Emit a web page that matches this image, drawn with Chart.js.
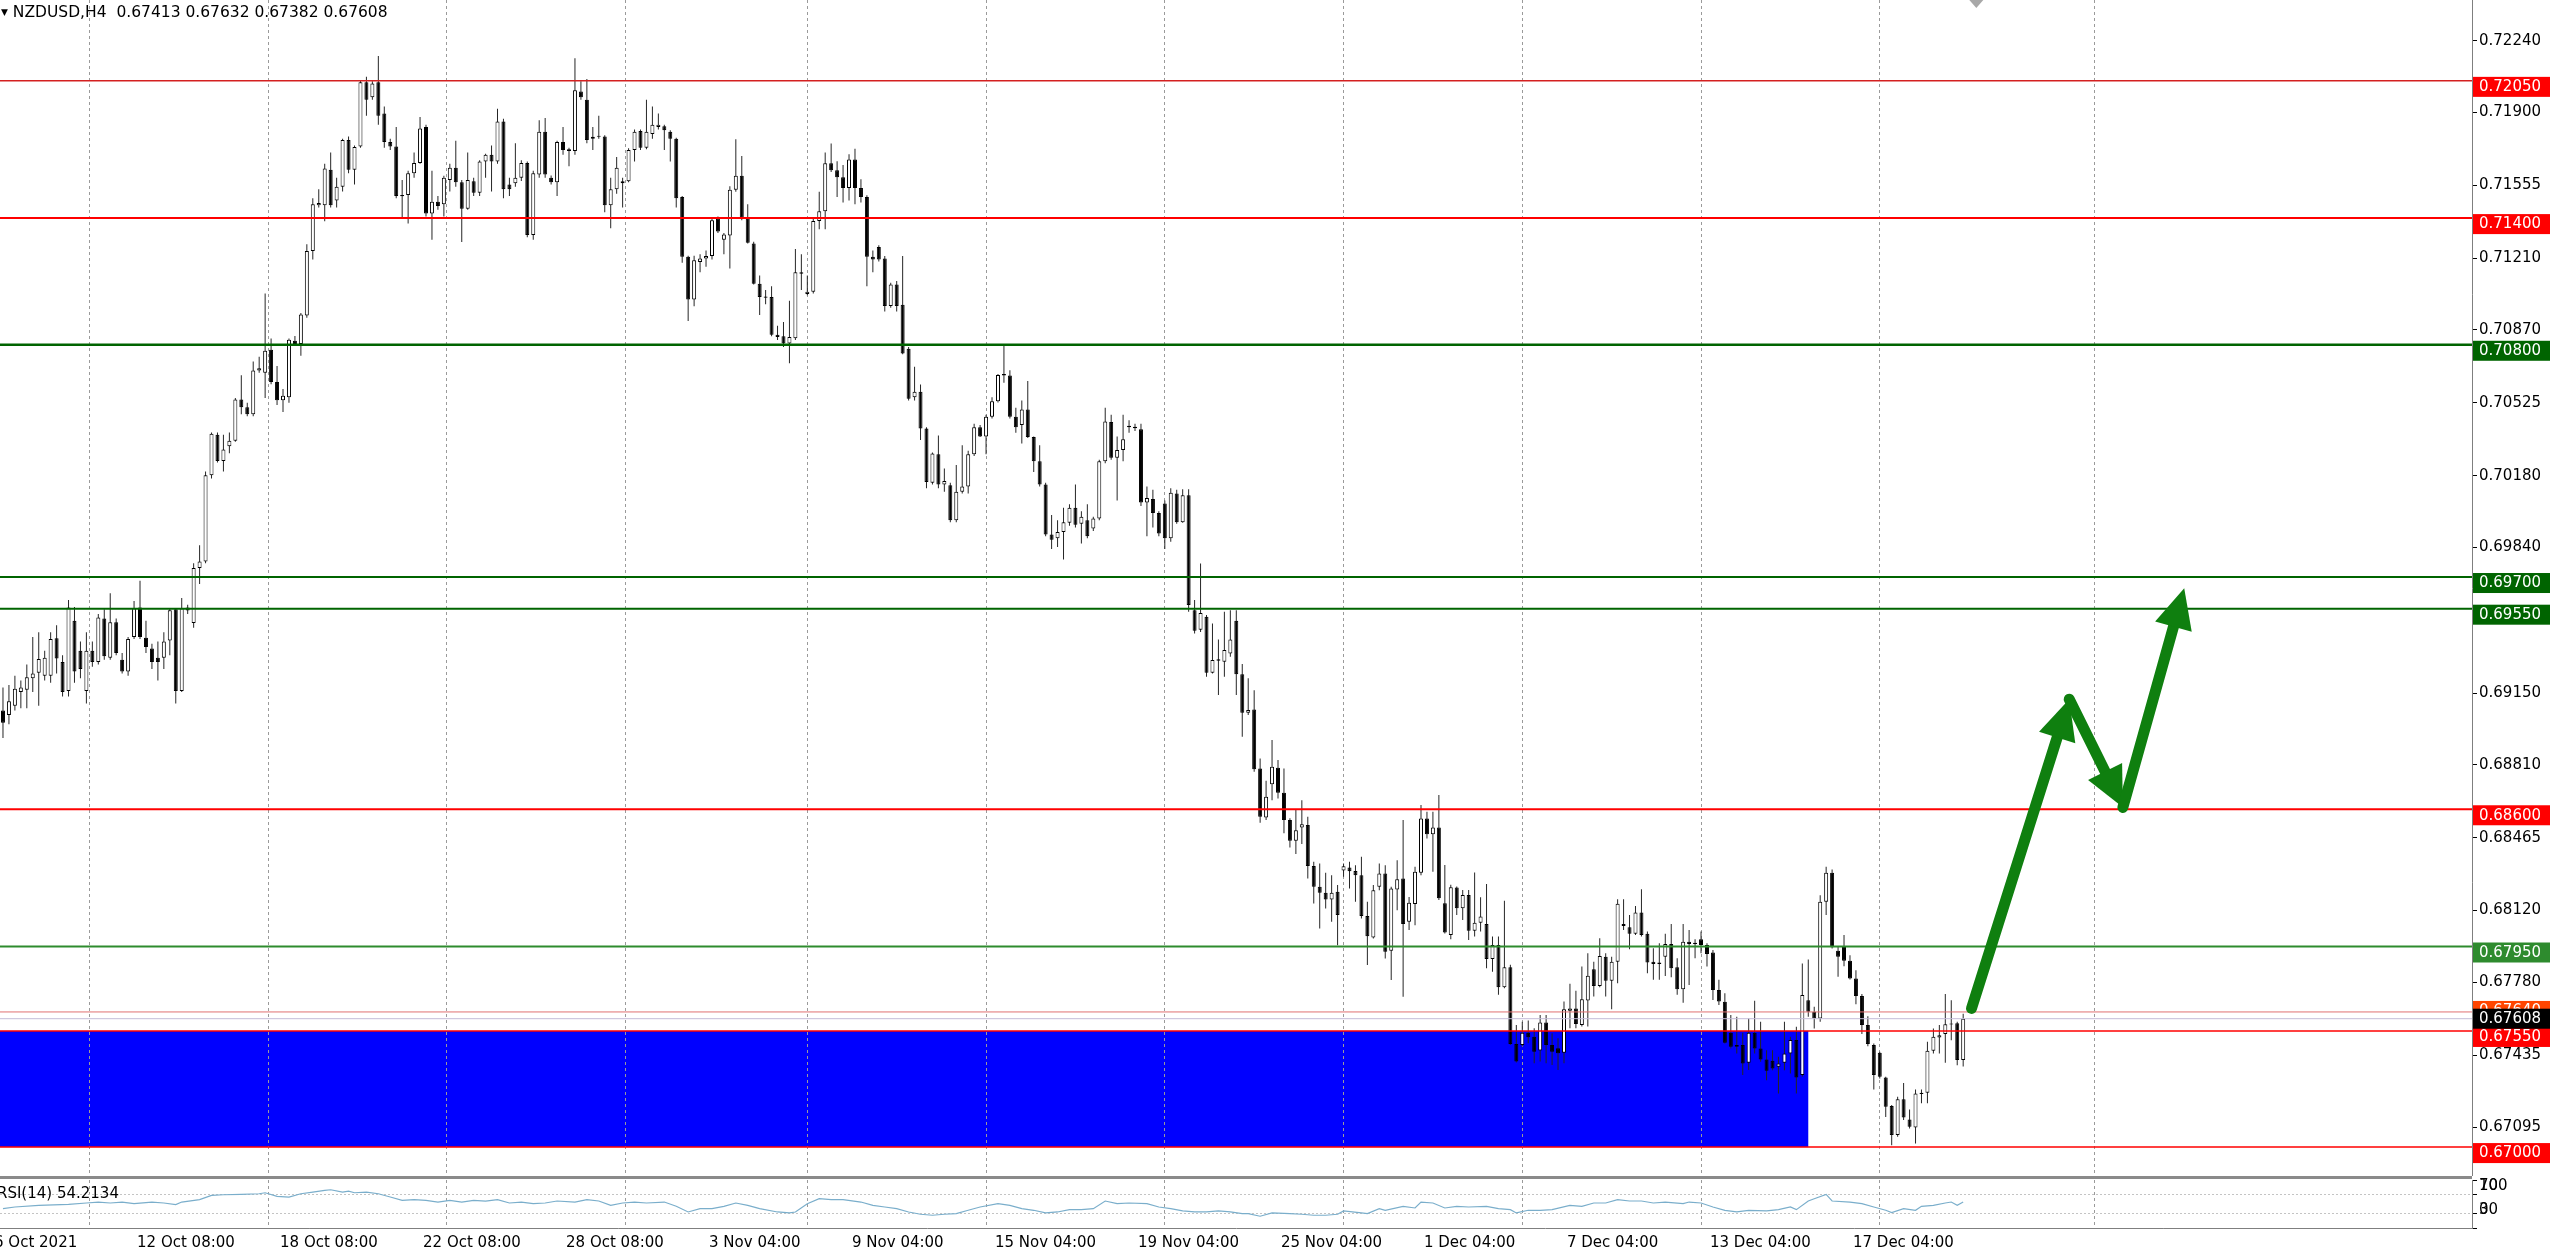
<!DOCTYPE html>
<html>
<head>
<meta charset="utf-8">
<title>NZDUSD,H4</title>
<script src="https://cdn.jsdelivr.net/npm/chart.js@4.4.1/dist/chart.umd.min.js"></script>
<style>
    html, body { margin: 0; padding: 0; background: #fff; }
    body { width: 2560px; height: 1254px; position: relative; overflow: hidden; font-family: "DejaVu Sans", sans-serif; }
    canvas { position: absolute; left: 0; }
    #priceChart { top: 0; }
    #rsiChart { top: 1168px; }
    #panelSep { position: absolute; left: 0; top: 1176px; width: 2472px; height: 3px; background: #8a8a8a; }
    #header { position: absolute; left: 1px; top: 3px; font-size: 15.5px; white-space: pre; color: #000; }
    #header .tri { font-size: 9px; position: relative; top: -2px; }
    #rsiLabel { position: absolute; left: -3px; top: 1184px; font-size: 15px; white-space: pre; color: #000; }
</style>
</head>
<body>
<canvas id="priceChart" width="2560" height="1176"></canvas>
<div id="panelSep"></div>
<canvas id="rsiChart" width="2560" height="86"></canvas>
<div id="header"></div>
<div id="rsiLabel">RSI(14) 54.2134</div>
<script>
// --- DATA (one entry per H4 bar) ---
const opens = [
    0.69068, 0.69047, 0.69090, 0.69155, 0.69166, 0.69221, 0.69247, 0.69232, 0.69232, 0.69410,
    0.69297, 0.69160, 0.69493, 0.69351, 0.69160, 0.69351, 0.69297, 0.69504, 0.69318, 0.69486,
    0.69308, 0.69253, 0.69416, 0.69556, 0.69412, 0.69362, 0.69318, 0.69318, 0.69399, 0.69547,
    0.69160, 0.69556, 0.69482, 0.69743, 0.69773, 0.70182, 0.70374, 0.70249, 0.70319, 0.70345,
    0.70541, 0.70504, 0.70471, 0.70678, 0.70667, 0.70776, 0.70624, 0.70537, 0.70552, 0.70819,
    0.70804, 0.70939, 0.71244, 0.71461, 0.71461, 0.71629, 0.71483, 0.71548, 0.71770, 0.71629,
    0.71739, 0.72044, 0.71972, 0.72044, 0.71896, 0.71761, 0.71739, 0.71509, 0.71509, 0.71613,
    0.71661, 0.71831, 0.71422, 0.71478, 0.71465, 0.71581, 0.71639, 0.71570, 0.71444, 0.71574,
    0.71520, 0.71668, 0.71700, 0.71668, 0.71857, 0.71559, 0.71565, 0.71591, 0.71661, 0.71320,
    0.71607, 0.71809, 0.71591, 0.71570, 0.71761, 0.71726, 0.71718, 0.72000, 0.71961, 0.71776,
    0.71785, 0.71787, 0.71461, 0.71537, 0.71565, 0.71574, 0.71722, 0.71813, 0.71733, 0.71798,
    0.71831, 0.71835, 0.71809, 0.71776, 0.71500, 0.71217, 0.71015, 0.71192, 0.71209, 0.71221,
    0.71398, 0.71297, 0.71317, 0.71534, 0.71601, 0.71398, 0.71280, 0.71089, 0.71029, 0.71026,
    0.70848, 0.70840, 0.70806, 0.70831, 0.71136, 0.71040, 0.71051, 0.71386, 0.71432, 0.71660,
    0.71627, 0.71593, 0.71542, 0.71677, 0.71542, 0.71500, 0.71217, 0.71263, 0.71209, 0.70984,
    0.71085, 0.70989, 0.70781, 0.70552, 0.70578, 0.70404, 0.70147, 0.70281, 0.70138, 0.70135,
    0.69969, 0.70104, 0.70129, 0.70281, 0.70409, 0.70366, 0.70459, 0.70532, 0.70662, 0.70654,
    0.70459, 0.70420, 0.70493, 0.70363, 0.70248, 0.70138, 0.69901, 0.69884, 0.69913, 0.69957,
    0.70028, 0.69952, 0.69969, 0.69930, 0.69977, 0.70248, 0.70434, 0.70265, 0.70302, 0.70417,
    0.70412, 0.70400, 0.70053, 0.70070, 0.70003, 0.70048, 0.69884, 0.70096, 0.69960, 0.70087,
    0.69543, 0.69450, 0.69512, 0.69247, 0.69310, 0.69299, 0.69338, 0.69493, 0.69240, 0.69057,
    0.69073, 0.68793, 0.68561, 0.68719, 0.68797, 0.68678, 0.68549, 0.68451, 0.68514, 0.68525,
    0.68331, 0.68233, 0.68204, 0.68173, 0.68209, 0.68310, 0.68324, 0.68308, 0.68288, 0.68094,
    0.67993, 0.68233, 0.68296, 0.67930, 0.68220, 0.68272, 0.68067, 0.68151, 0.68299, 0.68556,
    0.68482, 0.68514, 0.68155, 0.68005, 0.68229, 0.68131, 0.68194, 0.68025, 0.68063, 0.68057,
    0.67891, 0.67957, 0.67757, 0.67852, 0.67488, 0.67484, 0.67542, 0.67523, 0.67457, 0.67590,
    0.67484, 0.67468, 0.67447, 0.67646, 0.67656, 0.67578, 0.67694, 0.67842, 0.67763, 0.67902,
    0.67788, 0.67878, 0.68057, 0.68041, 0.68010, 0.68111, 0.68010, 0.67878, 0.67874, 0.67902,
    0.67962, 0.67852, 0.67747, 0.67973, 0.67968, 0.67984, 0.67957, 0.67921, 0.67744, 0.67688,
    0.67541, 0.67475, 0.67483, 0.67399, 0.67541, 0.67467, 0.67415, 0.67409, 0.67380, 0.67399,
    0.67443, 0.67507, 0.67341, 0.67696, 0.67641, 0.67609, 0.68162, 0.68299, 0.67930, 0.67952,
    0.67882, 0.67799, 0.67715, 0.67578, 0.67483, 0.67447, 0.67330, 0.67194, 0.67057, 0.67226,
    0.67131, 0.67093, 0.67251, 0.67257, 0.67456, 0.67519, 0.67535, 0.67583, 0.67586, 0.67413
];
const highs = [
    0.69177, 0.69188, 0.69232, 0.69210, 0.69286, 0.69416, 0.69438, 0.69351, 0.69438, 0.69471,
    0.69329, 0.69591, 0.69558, 0.69395, 0.69438, 0.69395, 0.69525, 0.69547, 0.69623, 0.69504,
    0.69340, 0.69416, 0.69586, 0.69682, 0.69493, 0.69384, 0.69395, 0.69438, 0.69552, 0.69552,
    0.69601, 0.69569, 0.69765, 0.69851, 0.70200, 0.70384, 0.70384, 0.70374, 0.70384, 0.70548,
    0.70656, 0.70526, 0.70721, 0.70743, 0.71043, 0.70830, 0.70700, 0.70591, 0.70830, 0.70841,
    0.70950, 0.71276, 0.71494, 0.71537, 0.71657, 0.71711, 0.71591, 0.71776, 0.71787, 0.71744,
    0.72053, 0.72070, 0.72048, 0.72168, 0.71929, 0.71776, 0.71831, 0.71581, 0.71624, 0.71711,
    0.71879, 0.71842, 0.71624, 0.71505, 0.71600, 0.71657, 0.71766, 0.71581, 0.71711, 0.71591,
    0.71674, 0.71705, 0.71744, 0.71918, 0.71870, 0.71591, 0.71755, 0.71674, 0.71668, 0.71624,
    0.71863, 0.71874, 0.71602, 0.71766, 0.71831, 0.71733, 0.72157, 0.72048, 0.72059, 0.71831,
    0.71885, 0.71792, 0.71591, 0.71689, 0.71591, 0.71731, 0.71820, 0.71820, 0.71961, 0.71929,
    0.71896, 0.71842, 0.71816, 0.71781, 0.71505, 0.71222, 0.71222, 0.71229, 0.71246, 0.71400,
    0.71407, 0.71330, 0.71551, 0.71774, 0.71694, 0.71466, 0.71288, 0.71128, 0.71060, 0.71077,
    0.70890, 0.70908, 0.71009, 0.71254, 0.71229, 0.71128, 0.71398, 0.71525, 0.71711, 0.71753,
    0.71669, 0.71652, 0.71703, 0.71728, 0.71584, 0.71508, 0.71246, 0.71271, 0.71221, 0.71094,
    0.71102, 0.71221, 0.70789, 0.70696, 0.70612, 0.70409, 0.70290, 0.70370, 0.70214, 0.70147,
    0.70231, 0.70324, 0.70298, 0.70426, 0.70420, 0.70468, 0.70552, 0.70662, 0.70798, 0.70679,
    0.70502, 0.70536, 0.70629, 0.70366, 0.70324, 0.70147, 0.69994, 0.69969, 0.70028, 0.70045,
    0.70138, 0.70011, 0.70045, 0.69986, 0.70256, 0.70502, 0.70468, 0.70366, 0.70468, 0.70443,
    0.70426, 0.70426, 0.70129, 0.70113, 0.70011, 0.70062, 0.70121, 0.70113, 0.70116, 0.70116,
    0.69591, 0.69764, 0.69520, 0.69480, 0.69404, 0.69536, 0.69543, 0.69543, 0.69288, 0.69220,
    0.69164, 0.68841, 0.68735, 0.68928, 0.68833, 0.68793, 0.68557, 0.68596, 0.68643, 0.68564,
    0.68351, 0.68343, 0.68299, 0.68288, 0.68241, 0.68343, 0.68351, 0.68335, 0.68375, 0.68162,
    0.68241, 0.68343, 0.68335, 0.68233, 0.68359, 0.68549, 0.68185, 0.68328, 0.68620, 0.68588,
    0.68588, 0.68667, 0.68336, 0.68242, 0.68234, 0.68218, 0.68218, 0.68300, 0.68183, 0.68246,
    0.67997, 0.67997, 0.68167, 0.67863, 0.67578, 0.67594, 0.67599, 0.67563, 0.67626, 0.67626,
    0.67539, 0.67515, 0.67689, 0.67773, 0.67741, 0.67855, 0.67918, 0.67878, 0.67989, 0.67918,
    0.67902, 0.68174, 0.68174, 0.68099, 0.68142, 0.68221, 0.68021, 0.67942, 0.67965, 0.68010,
    0.68057, 0.67894, 0.68057, 0.68028, 0.67984, 0.68021, 0.67965, 0.67934, 0.67792, 0.67728,
    0.67625, 0.67617, 0.67541, 0.67609, 0.67693, 0.67593, 0.67459, 0.67459, 0.67428, 0.67593,
    0.67522, 0.67570, 0.67870, 0.67889, 0.67665, 0.68193, 0.68328, 0.68315, 0.67949, 0.68004,
    0.67909, 0.67838, 0.67725, 0.67620, 0.67491, 0.67451, 0.67333, 0.67199, 0.67238, 0.67304,
    0.67178, 0.67273, 0.67273, 0.67499, 0.67562, 0.67578, 0.67725, 0.67696, 0.67593, 0.67632
];
const lows = [
    0.68938, 0.69003, 0.69068, 0.69079, 0.69079, 0.69155, 0.69090, 0.69210, 0.69199, 0.69243,
    0.69134, 0.69134, 0.69199, 0.69221, 0.69101, 0.69275, 0.69286, 0.69308, 0.69308, 0.69329,
    0.69243, 0.69232, 0.69406, 0.69406, 0.69340, 0.69264, 0.69210, 0.69264, 0.69329, 0.69101,
    0.69155, 0.69525, 0.69460, 0.69667, 0.69765, 0.70167, 0.70243, 0.70200, 0.70286, 0.70341,
    0.70471, 0.70461, 0.70461, 0.70667, 0.70548, 0.70613, 0.70515, 0.70482, 0.70526, 0.70798,
    0.70748, 0.70928, 0.71204, 0.71450, 0.71385, 0.71450, 0.71450, 0.71526, 0.71613, 0.71559,
    0.71733, 0.71885, 0.71961, 0.71842, 0.71733, 0.71722, 0.71494, 0.71396, 0.71374, 0.71591,
    0.71657, 0.71407, 0.71298, 0.71439, 0.71407, 0.71526, 0.71548, 0.71287, 0.71439, 0.71505,
    0.71505, 0.71591, 0.71526, 0.71657, 0.71494, 0.71505, 0.71548, 0.71576, 0.71309, 0.71298,
    0.71591, 0.71591, 0.71559, 0.71505, 0.71700, 0.71646, 0.71700, 0.71961, 0.71755, 0.71722,
    0.71776, 0.71428, 0.71352, 0.71515, 0.71450, 0.71570, 0.71668, 0.71722, 0.71726, 0.71776,
    0.71820, 0.71722, 0.71668, 0.71450, 0.71189, 0.70913, 0.70982, 0.71144, 0.71170, 0.71204,
    0.71330, 0.71229, 0.71161, 0.71525, 0.71390, 0.71280, 0.71085, 0.70941, 0.70992, 0.70840,
    0.70823, 0.70789, 0.70713, 0.70823, 0.71060, 0.71034, 0.71043, 0.71347, 0.71347, 0.71618,
    0.71500, 0.71474, 0.71483, 0.71466, 0.71474, 0.71077, 0.71144, 0.71195, 0.70958, 0.70975,
    0.70958, 0.70755, 0.70536, 0.70536, 0.70349, 0.70121, 0.70138, 0.70121, 0.70104, 0.69960,
    0.69960, 0.70096, 0.70096, 0.70273, 0.70363, 0.70281, 0.70451, 0.70527, 0.70620, 0.70451,
    0.70383, 0.70332, 0.70358, 0.70197, 0.70129, 0.69893, 0.69833, 0.69842, 0.69783, 0.69943,
    0.69935, 0.69859, 0.69884, 0.69918, 0.69969, 0.70239, 0.70256, 0.70062, 0.70248, 0.70383,
    0.70392, 0.70036, 0.69893, 0.69935, 0.69893, 0.69833, 0.69867, 0.69952, 0.69957, 0.69535,
    0.69433, 0.69440, 0.69228, 0.69243, 0.69141, 0.69228, 0.69322, 0.69141, 0.68943, 0.69046,
    0.68778, 0.68536, 0.68549, 0.68643, 0.68651, 0.68486, 0.68419, 0.68388, 0.68435, 0.68272,
    0.68154, 0.68035, 0.68130, 0.68067, 0.67956, 0.68280, 0.68225, 0.68162, 0.68083, 0.67862,
    0.67988, 0.68217, 0.67893, 0.67791, 0.68122, 0.67712, 0.68028, 0.68051, 0.68288, 0.68462,
    0.68304, 0.68170, 0.68012, 0.67984, 0.68099, 0.68076, 0.67981, 0.67997, 0.68021, 0.67847,
    0.67831, 0.67721, 0.67752, 0.67484, 0.67400, 0.67476, 0.67492, 0.67397, 0.67405, 0.67397,
    0.67389, 0.67365, 0.67397, 0.67563, 0.67563, 0.67571, 0.67571, 0.67713, 0.67757, 0.67713,
    0.67653, 0.67776, 0.68028, 0.67937, 0.68005, 0.67997, 0.67823, 0.67792, 0.67792, 0.67810,
    0.67804, 0.67721, 0.67684, 0.67768, 0.67894, 0.67918, 0.67855, 0.67697, 0.67673, 0.67491,
    0.67467, 0.67443, 0.67341, 0.67365, 0.67443, 0.67404, 0.67317, 0.67364, 0.67254, 0.67364,
    0.67349, 0.67254, 0.67333, 0.67617, 0.67562, 0.67593, 0.68099, 0.67941, 0.67807, 0.67857,
    0.67794, 0.67677, 0.67535, 0.67478, 0.67273, 0.67325, 0.67143, 0.67009, 0.67049, 0.67128,
    0.67088, 0.67017, 0.67207, 0.67207, 0.67443, 0.67443, 0.67399, 0.67506, 0.67388, 0.67382
];
const closes = [
    0.69010, 0.69112, 0.69171, 0.69177, 0.69225, 0.69243, 0.69312, 0.69318, 0.69406, 0.69314,
    0.69155, 0.69556, 0.69253, 0.69264, 0.69351, 0.69297, 0.69508, 0.69325, 0.69486, 0.69340,
    0.69253, 0.69406, 0.69552, 0.69416, 0.69369, 0.69297, 0.69297, 0.69395, 0.69543, 0.69160,
    0.69552, 0.69541, 0.69743, 0.69773, 0.70182, 0.70378, 0.70249, 0.70304, 0.70345, 0.70541,
    0.70504, 0.70471, 0.70678, 0.70689, 0.70772, 0.70624, 0.70537, 0.70558, 0.70824, 0.70804,
    0.70943, 0.71244, 0.71465, 0.71472, 0.71635, 0.71461, 0.71548, 0.71770, 0.71629, 0.71737,
    0.72044, 0.71961, 0.72037, 0.71885, 0.71761, 0.71739, 0.71505, 0.71503, 0.71613, 0.71661,
    0.71824, 0.71422, 0.71478, 0.71457, 0.71591, 0.71639, 0.71570, 0.71444, 0.71581, 0.71520,
    0.71668, 0.71700, 0.71668, 0.71857, 0.71537, 0.71537, 0.71591, 0.71661, 0.71320, 0.71613,
    0.71809, 0.71607, 0.71570, 0.71761, 0.71722, 0.71718, 0.72005, 0.71972, 0.71770, 0.71785,
    0.71787, 0.71461, 0.71537, 0.71639, 0.71574, 0.71722, 0.71809, 0.71733, 0.71809, 0.71842,
    0.71842, 0.71816, 0.71776, 0.71494, 0.71217, 0.71015, 0.71200, 0.71209, 0.71221, 0.71390,
    0.71336, 0.71322, 0.71534, 0.71601, 0.71402, 0.71283, 0.71089, 0.71026, 0.71023, 0.70848,
    0.70837, 0.70806, 0.70837, 0.71144, 0.71144, 0.71051, 0.71386, 0.71432, 0.71660, 0.71627,
    0.71593, 0.71542, 0.71677, 0.71542, 0.71500, 0.71217, 0.71204, 0.71204, 0.70984, 0.71085,
    0.70984, 0.70759, 0.70544, 0.70578, 0.70404, 0.70150, 0.70285, 0.70138, 0.70155, 0.69969,
    0.70104, 0.70129, 0.70281, 0.70409, 0.70366, 0.70459, 0.70532, 0.70657, 0.70654, 0.70459,
    0.70409, 0.70493, 0.70363, 0.70248, 0.70138, 0.69901, 0.69876, 0.69913, 0.69960, 0.70028,
    0.69947, 0.69986, 0.69893, 0.69977, 0.70248, 0.70437, 0.70265, 0.70302, 0.70353, 0.70409,
    0.70405, 0.70053, 0.70074, 0.70003, 0.69906, 0.69884, 0.70099, 0.69960, 0.70087, 0.69567,
    0.69446, 0.69530, 0.69247, 0.69307, 0.69303, 0.69354, 0.69404, 0.69240, 0.69057, 0.69070,
    0.68789, 0.68564, 0.68659, 0.68801, 0.68678, 0.68549, 0.68451, 0.68501, 0.68529, 0.68331,
    0.68233, 0.68204, 0.68173, 0.68204, 0.68099, 0.68330, 0.68307, 0.68288, 0.68094, 0.67999,
    0.68217, 0.68296, 0.67925, 0.68225, 0.68268, 0.68056, 0.68157, 0.68304, 0.68556, 0.68482,
    0.68514, 0.68178, 0.68016, 0.68231, 0.68131, 0.68194, 0.68025, 0.68063, 0.68092, 0.67891,
    0.67957, 0.67757, 0.67852, 0.67488, 0.67405, 0.67542, 0.67520, 0.67452, 0.67590, 0.67484,
    0.67452, 0.67444, 0.67653, 0.67656, 0.67583, 0.67700, 0.67811, 0.67763, 0.67905, 0.67788,
    0.67878, 0.68152, 0.68047, 0.68010, 0.68111, 0.68005, 0.67874, 0.67867, 0.67867, 0.67962,
    0.67847, 0.67747, 0.67973, 0.67962, 0.67962, 0.67957, 0.67915, 0.67744, 0.67689, 0.67494,
    0.67475, 0.67483, 0.67396, 0.67541, 0.67467, 0.67415, 0.67361, 0.67372, 0.67396, 0.67443,
    0.67507, 0.67330, 0.67720, 0.67641, 0.67609, 0.68162, 0.68299, 0.67946, 0.67901, 0.67882,
    0.67799, 0.67715, 0.67578, 0.67488, 0.67341, 0.67333, 0.67191, 0.67057, 0.67226, 0.67140,
    0.67096, 0.67254, 0.67257, 0.67456, 0.67522, 0.67530, 0.67582, 0.67580, 0.67412, 0.67608
];

// RSI(14) read at selected bars
const rsiBars = [
    0, 2, 6, 11, 14, 16, 18, 20, 22, 25, 27, 29, 30, 33, 35, 37, 40, 43, 44, 46,
    48, 50, 52, 54, 55, 57, 58, 59, 61, 63, 65, 67, 69, 71, 73, 75, 77, 79, 81, 83,
    85, 87, 89, 91, 93, 96, 98, 100, 102, 104, 106, 108, 111, 113, 115, 117, 119, 121, 123, 125,
    127, 130, 132, 133, 135, 137, 139, 141, 144, 146, 148, 150, 152, 154, 156, 158, 160, 162, 164, 167,
    169, 171, 173, 175, 177, 179, 181, 183, 185, 187, 189, 192, 194, 196, 198, 200, 202, 204, 206, 208,
    209, 211, 213, 216, 218, 220, 222, 224, 225, 228, 229, 231, 232, 235, 237, 238, 240, 242, 244, 246,
    249, 251, 253, 254, 256, 258, 260, 263, 265, 267, 269, 271, 273, 275, 277, 279, 282, 283, 285, 287,
    289, 291, 293, 296, 298, 300, 301, 303, 304, 306, 307, 310, 312, 314, 316, 317, 319, 321, 322, 324,
    326, 327, 328, 329
];
const rsiValues = [
    40.3, 43.8, 47.2, 49.3, 52.1, 54.1, 52.1, 54.1, 50.7, 54.1, 52.1, 48.6, 54.1, 59, 67.9, 69.3, 70, 71.4, 73.4, 65.9,
    64.5, 71.4, 74.8, 78.3, 79.7, 74.8, 76.9, 73.4, 74.8, 71.4, 64.5, 57.6, 59, 57.6, 54.1, 57.6, 54.1, 57.6, 56.2, 59,
    52.1, 54.1, 50.7, 52.1, 56.2, 54.1, 59, 56.2, 47.2, 52.1, 54.1, 52.1, 54.1, 45.2, 33.4, 40.3, 40.3, 45.2, 52.1, 47.2,
    40.3, 33.4, 31.4, 33.4, 50.7, 61, 59, 59, 54.1, 47.2, 43.8, 40.3, 33.4, 28.6, 26.6, 28.6, 30, 36.9, 43.8, 50.7,
    47.2, 40.3, 36.9, 31.4, 33.4, 38.3, 38.3, 40.3, 56.2, 50.7, 52.1, 50.7, 43.8, 40.3, 35.5, 33.4, 33.4, 35.5, 33.4, 30,
    30, 24.5, 31.4, 30, 28.6, 26.6, 26.6, 28.6, 35.5, 31.4, 30, 40.3, 36.9, 45.2, 41.7, 54.1, 52.1, 41.7, 45.2, 43.8,
    45.2, 40.3, 38.3, 31.4, 36.9, 36.9, 38.3, 47.2, 45.2, 52.1, 52.1, 59, 56.2, 56.2, 52.1, 54.1, 50.7, 54.1, 52.1, 43.8,
    36.9, 33.4, 36.9, 35.5, 38.3, 43.8, 38.3, 56.2, 61, 70, 56.2, 54.1, 50.7, 43.8, 36.9, 32.1, 40.3, 36.9, 45.2, 47.2,
    52.1, 54.1, 47.2, 54.2
];

// axes
const priceTicks = [0.72240, 0.71900, 0.71555, 0.71210, 0.70870, 0.70525, 0.70180, 0.69840,
                    0.69495, 0.69150, 0.68810, 0.68465, 0.68120, 0.67780, 0.67435, 0.67095];
const rsiTicks = [0, 30, 70, 100];
const timeLabels = ['6 Oct 2021', '12 Oct 08:00', '18 Oct 08:00', '22 Oct 08:00', '28 Oct 08:00',
                    '3 Nov 04:00', '9 Nov 04:00', '15 Nov 04:00', '19 Nov 04:00', '25 Nov 04:00',
                    '1 Dec 04:00', '7 Dec 04:00', '13 Dec 04:00', '17 Dec 04:00'];
const timeLabelBars = [-2, 22, 46, 70, 94, 118, 142, 166, 190, 214, 238, 262, 286, 310];
const gridBars = [14.5, 44.5, 74.5, 104.5, 135, 165, 195, 225, 255, 285, 315, 351];

// horizontal levels drawn on the chart
const levelPrices = [0.72050, 0.71400, 0.70800, 0.69700, 0.69550, 0.68600, 0.67950, 0.67550, 0.67000];
const askPrice = 0.67640;

// blue zone and forecast arrow
const zoneBars = [-0.5, 303];
const zonePrices = [0.67000, 0.67550];
const arrowBars = [330.4, 346.8, 355.8, 366.1];
const arrowPrices = [0.67657, 0.69121, 0.68609, 0.69647];
const shiftBar = 331.2;

// --- STYLE ---
const levelColors = ['#d42020', '#ff0000', '#006400', '#006400', '#006400', '#ff0000', '#2e8b2e', '#ff0000', '#ff0000'];
const levelBoxColors = ['#ff0000', '#ff0000', '#006400', '#006400', '#006400', '#ff0000', '#2e8b2e', '#ff0000', '#ff0000'];
const levelWidths = [1.5, 2, 2.5, 2, 2, 2, 2, 1.5, 1.5];
const FONT = { family: 'DejaVu Sans', size: 15 };
const xMin = -0.5, xMax = 414.4;
const yMin = 0.66863, yMax = 0.72433;

Chart.defaults.font.family = FONT.family;
Chart.defaults.font.size = FONT.size;
Chart.defaults.color = '#000';

const lastBar = opens.length - 1;
document.getElementById('header').innerHTML =
    '<span class="tri">&#9660;</span> NZDUSD,H4  ' +
    [opens[lastBar], highs[lastBar], lows[lastBar], closes[lastBar]].map(v => v.toFixed(5)).join(' ');

function fixWidth(w) {
    return s => { s.width = w; s.paddingTop = 0; s.paddingBottom = 0; };
}
function fixHeight(h) {
    return s => { s.height = h; s.paddingLeft = 0; s.paddingRight = 0; };
}
function setTicks(values) {
    return s => { s.ticks = values.map(v => ({ value: v })); };
}

// --- PLUGINS ---
const zonePlugin = {
    id: 'zone',
    beforeDraw(chart) {
        const { ctx, chartArea, scales: { x, y } } = chart;
        const left = Math.max(x.getPixelForValue(zoneBars[0]), chartArea.left);
        const right = x.getPixelForValue(zoneBars[1]);
        const top = y.getPixelForValue(zonePrices[1]);
        const bottom = y.getPixelForValue(zonePrices[0]);
        ctx.save();
        ctx.fillStyle = '#0000ff';
        ctx.fillRect(left, top, right - left, bottom - top);
        ctx.restore();
    }
};

function priceBox(ctx, x0, yc, color, text) {
    ctx.fillStyle = color;
    ctx.fillRect(x0, yc - 10, 77, 20);
    ctx.fillStyle = '#fff';
    ctx.fillText(text, x0 + 6, yc + 0.5);
}

const levelPlugin = {
    id: 'levels',
    afterDatasetsDraw(chart) {
        const { ctx, chartArea, scales: { y } } = chart;
        ctx.save();
        ctx.beginPath();
        ctx.rect(chartArea.left, chartArea.top, chartArea.right - chartArea.left, chartArea.bottom - chartArea.top);
        ctx.clip();
        const hline = (price, color, width) => {
            const py = y.getPixelForValue(price);
            ctx.strokeStyle = color;
            ctx.lineWidth = width;
            ctx.beginPath();
            ctx.moveTo(chartArea.left, py);
            ctx.lineTo(chartArea.right, py);
            ctx.stroke();
        };
        hline(askPrice, '#e07070', 1);
        hline(closes[lastBar], '#c4bcd8', 1);
        levelPrices.forEach((p, i) => hline(p, levelColors[i], levelWidths[i]));
        ctx.restore();
    },
    afterDraw(chart) {
        const { ctx, chartArea, scales: { x, y } } = chart;
        ctx.save();
        ctx.font = '15px "DejaVu Sans"';
        ctx.textBaseline = 'middle';
        ctx.textAlign = 'left';
        const x0 = chartArea.right + 1;
        levelPrices.forEach((p, i) => priceBox(ctx, x0, y.getPixelForValue(p) + 6, levelBoxColors[i], p.toFixed(5)));
        priceBox(ctx, x0, y.getPixelForValue(askPrice) - 1, '#ff4500', askPrice.toFixed(5));
        priceBox(ctx, x0, y.getPixelForValue(closes[lastBar]), '#000', closes[lastBar].toFixed(5));
        // chart shift marker
        const sx = x.getPixelForValue(shiftBar);
        ctx.fillStyle = '#a8a8a8';
        ctx.beginPath();
        ctx.moveTo(sx - 7, 0);
        ctx.lineTo(sx + 7, 0);
        ctx.lineTo(sx, 8);
        ctx.closePath();
        ctx.fill();
        ctx.restore();
    }
};

// RSI scale labels sit in two overlapping pairs, as in the terminal
const rsiLabelPlugin = {
    id: 'rsiLabels',
    afterDraw(chart) {
        const { ctx, chartArea, scales: { y } } = chart;
        ctx.save();
        ctx.font = '15px "DejaVu Sans"';
        ctx.fillStyle = '#000';
        ctx.textBaseline = 'middle';
        ctx.textAlign = 'left';
        const tx = chartArea.right + 7;
        ctx.fillText('100', tx, y.getPixelForValue(87));
        ctx.fillText('70', tx, y.getPixelForValue(87));
        ctx.fillText('30', tx, y.getPixelForValue(38));
        ctx.fillText('0', tx, y.getPixelForValue(38));
        ctx.restore();
    }
};

function arrowHead(ctx, from, to) {
    const a = Math.atan2(to[1] - from[1], to[0] - from[0]);
    const len = 40, half = 19;
    const bx = to[0] - len * Math.cos(a), by = to[1] - len * Math.sin(a);
    ctx.beginPath();
    ctx.moveTo(to[0], to[1]);
    ctx.lineTo(bx + half * Math.sin(a), by - half * Math.cos(a));
    ctx.lineTo(bx - half * Math.sin(a), by + half * Math.cos(a));
    ctx.closePath();
    ctx.fill();
}

const arrowPlugin = {
    id: 'forecast',
    afterDatasetsDraw(chart) {
        const { ctx, scales: { x, y } } = chart;
        const pts = arrowBars.map((b, i) => [x.getPixelForValue(b), y.getPixelForValue(arrowPrices[i])]);
        ctx.save();
        ctx.strokeStyle = '#0f7f0f';
        ctx.fillStyle = '#0f7f0f';
        ctx.lineWidth = 11;
        ctx.lineCap = 'round';
        ctx.lineJoin = 'round';
        for (let i = 1; i < pts.length; i++) {
            const [x1, y1] = pts[i - 1], [x2, y2] = pts[i];
            const d = Math.hypot(x2 - x1, y2 - y1);
            const k = (d - 22) / d;
            ctx.beginPath();
            ctx.moveTo(x1, y1);
            ctx.lineTo(x1 + (x2 - x1) * k, y1 + (y2 - y1) * k);
            ctx.stroke();
            arrowHead(ctx, pts[i - 1], pts[i]);
        }
        ctx.restore();
    }
};

// --- PRICE CHART ---
const bodyData = opens.map((o, i) => ({ x: i, y: [Math.min(o, closes[i]), Math.max(o, closes[i])] }));
const wickData = highs.map((h, i) => ({ x: i, y: [lows[i], h] }));
const bodyColors = opens.map((o, i) => closes[i] >= o ? '#ffffff' : '#000000');

new Chart(document.getElementById('priceChart'), {
    type: 'bar',
    data: {
        datasets: [
            { data: bodyData, backgroundColor: bodyColors, borderColor: '#000', borderWidth: 1,
              borderSkipped: false, barThickness: 4, minBarLength: 1, grouped: false, inflateAmount: 0 },
            { data: wickData, backgroundColor: '#262626', borderWidth: 0,
              barThickness: 1, grouped: false, inflateAmount: 0 }
        ]
    },
    options: {
        responsive: false,
        animation: false,
        events: [],
        layout: { padding: 0 },
        plugins: { legend: { display: false }, tooltip: { enabled: false } },
        scales: {
            x: {
                type: 'linear', min: xMin, max: xMax, offset: false,
                ticks: { display: false },
                grid: { color: '#9a9a9a', drawTicks: false, offset: false },
                border: { display: false, dash: [3, 3] },
                afterBuildTicks: setTicks(gridBars),
                afterFit: fixHeight(0)
            },
            y: {
                type: 'linear', position: 'right', min: yMin, max: yMax,
                grid: { drawOnChartArea: false, color: '#000', tickLength: 5 },
                border: { color: '#7f7f7f' },
                ticks: { padding: 2, autoSkip: false, callback: v => v.toFixed(5) },
                afterBuildTicks: setTicks(priceTicks),
                afterFit: fixWidth(88)
            }
        }
    },
    plugins: [zonePlugin, levelPlugin, arrowPlugin]
});

// --- RSI CHART ---
new Chart(document.getElementById('rsiChart'), {
    type: 'line',
    data: {
        datasets: [{
            data: rsiBars.map((b, i) => ({ x: b, y: rsiValues[i] })),
            borderColor: '#7aaecb', borderWidth: 1.2, pointRadius: 0, tension: 0
        }]
    },
    options: {
        responsive: false,
        animation: false,
        events: [],
        layout: { padding: { top: 12, left: 0, right: 0, bottom: 0 } },
        plugins: { legend: { display: false }, tooltip: { enabled: false } },
        scales: {
            x: {
                type: 'linear', min: xMin, max: xMax, offset: false,
                grid: { display: false, drawTicks: false },
                border: { color: '#7f7f7f' },
                ticks: { align: 'start', labelOffset: 3, padding: 6, maxRotation: 0, minRotation: 0,
                         autoSkip: false, callback: (v, i) => timeLabels[i] },
                afterBuildTicks: setTicks(timeLabelBars),
                afterFit: fixHeight(26)
            },
            x2: {
                type: 'linear', position: 'bottom', min: xMin, max: xMax, offset: false,
                ticks: { display: false },
                grid: { color: '#9a9a9a', drawTicks: false, offset: false },
                border: { display: false, dash: [3, 3] },
                afterBuildTicks: setTicks(gridBars),
                afterFit: fixHeight(0)
            },
            y: {
                type: 'linear', position: 'right', min: 0, max: 100,
                grid: {
                    color: c => (c.tick && (c.tick.value === 30 || c.tick.value === 70)) ? '#c4c4c4' : 'rgba(0,0,0,0)',
                    tickColor: '#000', tickLength: 5
                },
                border: { color: '#7f7f7f', dash: [2, 2] },
                ticks: { display: false },
                afterBuildTicks: setTicks(rsiTicks),
                afterFit: fixWidth(88)
            }
        }
    },
    plugins: [rsiLabelPlugin]
});
</script>
</body>
</html>
